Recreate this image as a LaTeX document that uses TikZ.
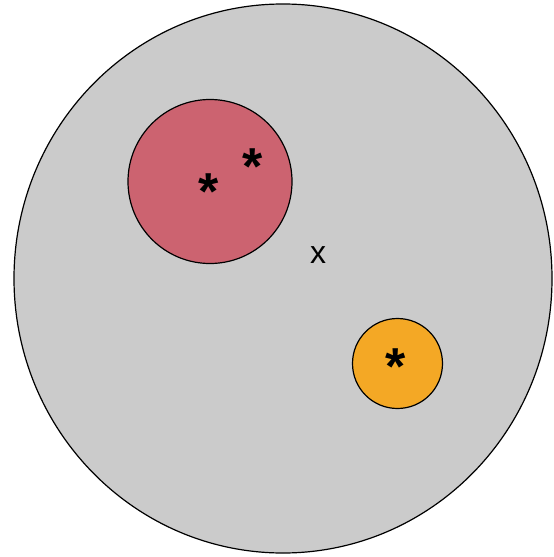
\documentclass[tikz,border=0pt]{standalone}
\usepackage{fontspec}
\setmainfont{Liberation Sans}
\definecolor{bggray}{HTML}{CBCBCB}
\definecolor{redfill}{HTML}{CC6370}
\definecolor{orangefill}{HTML}{F4A825}
\begin{document}
\begin{tikzpicture}[x=1pt,y=-1pt,
  disc/.style={draw=black,line width=1.2pt},
  star/.style={inner sep=0pt,font=\fontsize{52}{52}\selectfont\bfseries},
  cross/.style={inner sep=0pt,font=\fontsize{32}{32}\selectfont}]
\useasboundingbox (0,0) rectangle (554,557);
\fill[white] (0,0) rectangle (554,557);
\draw[disc,fill=bggray] (283,278.5) ellipse [x radius=269, y radius=274.5];
\draw[disc,fill=redfill] (210,181.5) circle [radius=82];
\draw[disc,fill=orangefill] (397.5,363.5) circle [radius=45];
\node[star] (s1) at (208.5,192) {*};
\node[star] (s2) at (252.6,167) {*};
\node[star] (s3) at (395.8,367) {*};
\node[cross] (x) at (318,255) {x};
\end{tikzpicture}
\end{document}
